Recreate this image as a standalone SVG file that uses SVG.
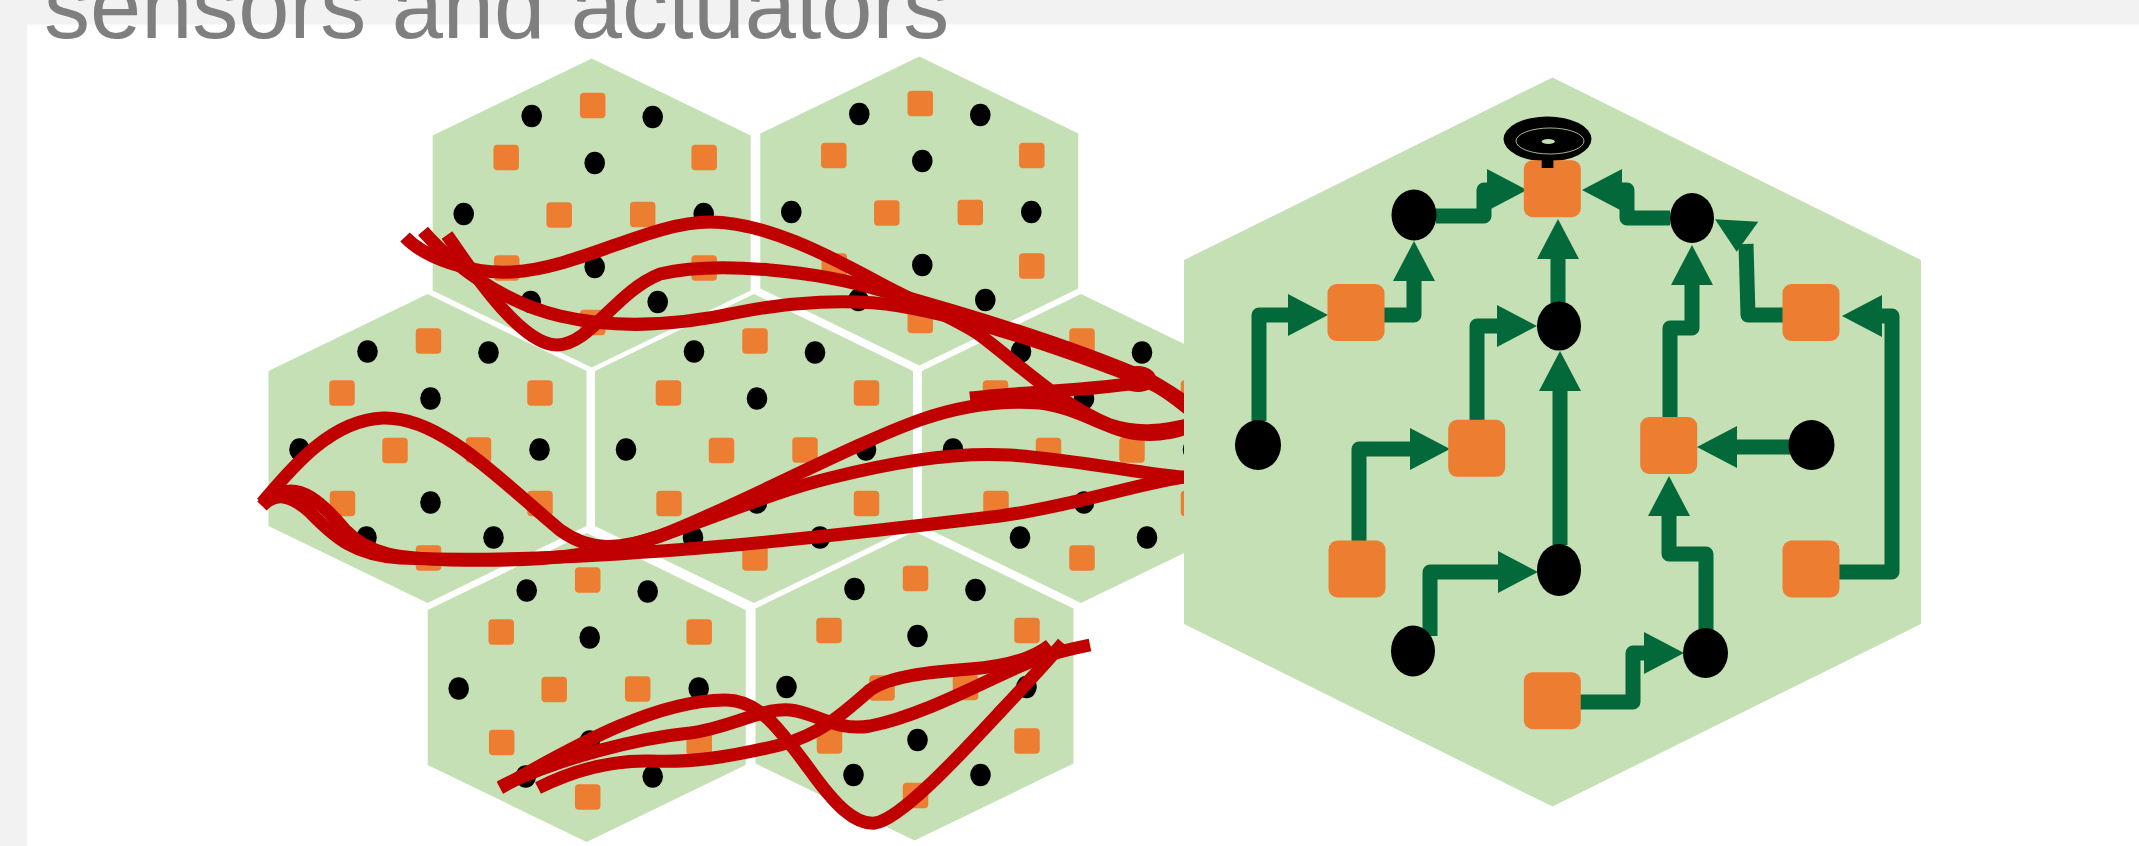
<svg xmlns="http://www.w3.org/2000/svg" xmlns:xlink="http://www.w3.org/1999/xlink" width="2139" height="846" viewBox="0 0 2139 846">
<style>
.hex{fill:#c5e0b4}
.sq{fill:#ed7d31}
.dot{fill:#000}
.wire{fill:none;stroke:#c00000;stroke-width:13;stroke-linecap:butt;stroke-linejoin:round}
.arr{fill:none;stroke:#04693a;stroke-width:15;stroke-linejoin:round;marker-end:url(#ah)}
.ahead{fill:#04693a}
.title{font-family:"Liberation Sans",Arial,sans-serif;font-size:92px;fill:#7f7f7f}
</style>
<defs>
<marker id="ah" markerUnits="userSpaceOnUse" viewBox="0 0 42 42" markerWidth="42" markerHeight="42" refX="0" refY="21" orient="auto">
<path d="M0,0 L40,21 L0,42 z" class="ahead"/>
</marker>
<g id="cell">
<polygon class="hex" points="0,-154.5 159,-77.5 159,77.5 0,154.5 -159,77.5 -159,-77.5"/>
<rect class="sq" x="-11.75" y="-120.25" width="25.5" height="25.5" rx="4"/>
<rect class="sq" x="-98.25" y="-68.25" width="25.5" height="25.5" rx="4"/>
<rect class="sq" x="99.75" y="-68.25" width="25.5" height="25.5" rx="4"/>
<rect class="sq" x="-45.25" y="-10.75" width="25.5" height="25.5" rx="4"/>
<rect class="sq" x="38.25" y="-11.25" width="25.5" height="25.5" rx="4"/>
<rect class="sq" x="-97.75" y="42.25" width="25.5" height="25.5" rx="4"/>
<rect class="sq" x="99.75" y="42.25" width="25.5" height="25.5" rx="4"/>
<rect class="sq" x="-11.75" y="96.75" width="25.5" height="25.5" rx="4"/>
<ellipse class="dot" cx="-60" cy="-97" rx="10.3" ry="11.3"/>
<ellipse class="dot" cx="61" cy="-96" rx="10.3" ry="11.3"/>
<ellipse class="dot" cx="3" cy="-50" rx="10.3" ry="11.3"/>
<ellipse class="dot" cx="-128" cy="1" rx="10.3" ry="11.3"/>
<ellipse class="dot" cx="112" cy="1" rx="10.3" ry="11.3"/>
<ellipse class="dot" cx="3" cy="54" rx="10.3" ry="11.3"/>
<ellipse class="dot" cx="-61" cy="89" rx="10.3" ry="11.3"/>
<ellipse class="dot" cx="66" cy="89" rx="10.3" ry="11.3"/>
</g>
</defs>
<rect x="0" y="0" width="2139" height="846" fill="#f2f2f2"/>
<rect x="27" y="24.5" width="2112" height="821.5" fill="#ffffff"/>
<text class="title" x="44" y="38">sensors and actuators</text>
<g id="cells">
<g id="cell-a"><use xlink:href="#cell" href="#cell" transform="translate(591.7,213)"/></g>
<g id="cell-b"><use xlink:href="#cell" href="#cell" transform="translate(919.3,211)"/></g>
<g id="cell-c"><use xlink:href="#cell" href="#cell" transform="translate(427.5,448.5)"/></g>
<g id="cell-d"><use xlink:href="#cell" href="#cell" transform="translate(754,448.5)"/></g>
<g id="cell-e"><use xlink:href="#cell" href="#cell" transform="translate(1081,448.5)"/></g>
<g id="cell-f"><use xlink:href="#cell" href="#cell" transform="translate(586.7,687.5)"/></g>
<g id="cell-g"><use xlink:href="#cell" href="#cell" transform="translate(914.5,686)"/></g>
</g>
<g id="wires">
<path class="wire" d="M405,237 C425,258 470,274 512,272 C580,268 650,222 710,222 C770,222 840,262 887,287 C925,307 955,318 980,335 C1020,365 1060,405 1110,425 C1140,435 1165,430 1192,424"/>
<path class="wire" d="M447,235 C470,268 520,345 557,345 C590,345 615,292 660,274 C720,260 820,272 880,290 C960,312 1070,345 1150,380 C1168,390 1182,400 1192,406"/>
<path class="wire" d="M423,231 C450,262 500,302 560,316 C620,330 680,325 740,312 C790,302 850,298 900,306 C980,320 1070,352 1150,383 C1168,391 1182,404 1192,412"/>
<path class="wire" d="M970,398 C1020,392 1100,390 1150,381"/>
<ellipse cx="1138" cy="379" rx="18" ry="13" fill="#c00000"/>
<path class="wire" d="M262,503 C290,470 330,420 383,418 C440,416 500,480 560,530 C590,552 620,550 660,536 C740,505 850,445 920,420 C960,406 1000,400 1040,403 C1080,408 1110,432 1140,434 C1165,436 1180,430 1192,426"/>
<path class="wire" d="M280,493 C300,485 320,500 345,530 C370,556 400,558 450,560 C540,562 600,556 660,536 C720,515 780,490 830,478 C900,460 960,452 1010,455 C1080,460 1140,474 1192,478"/>
<path class="wire" d="M262,506 C275,492 290,494 310,512 C335,538 355,555 400,558 C500,562 600,556 700,548 C800,540 900,528 1000,516 C1080,505 1140,482 1192,476"/>
<path class="wire" d="M500,788 C560,755 650,700 725,700 C760,700 780,730 810,770 C835,805 855,825 875,823 C900,820 960,755 1000,712 C1030,680 1050,658 1063,643"/>
<path class="wire" d="M500,787 C560,757 640,738 690,733 C730,728 760,708 790,710 C815,712 835,732 870,726 C930,714 1000,672 1040,658 C1060,651 1075,648 1090,645"/>
<path class="wire" d="M538,788 C570,772 610,760 650,761 C690,763 730,757 780,745 C820,735 845,712 870,690 C890,676 930,672 970,669 C1010,666 1035,657 1050,645"/>
</g>
<g id="big-cell">
<polygon class="hex" points="1552.5,77.5 1921,260 1921,624 1552.5,806.5 1184,624 1184,260"/>
</g>
<g id="connectors">
<path class="arr" d="M1259,421 V315 H1288"/>
<path class="arr" d="M1384,315 H1414 V281"/>
<path class="arr" d="M1436,216 H1484 V190 H1487"/>
<path class="arr" d="M1670,218 H1627 V190 H1622"/>
<path class="arr" d="M1558,303 V259"/>
<path class="arr" d="M1477,421 V326 H1497"/>
<path class="arr" d="M1560,545 V391"/>
<path class="arr" d="M1359,543 V449 H1410"/>
<path class="arr" d="M1430,636 V572 H1498"/>
<path class="arr" d="M1580,702 H1633 V653 H1644"/>
<path class="arr" d="M1706,630 V554 H1669 V516"/>
<path class="arr" d="M1790,447 H1737"/>
<path class="arr" d="M1839,572 H1892 V316 H1882"/>
<path class="arr" d="M1670,418 V328 H1692 V285"/>
<path d="M1783,315 H1748 L1746,244" fill="none" stroke="#04693a" stroke-width="15" stroke-linejoin="round"/>
<polygon class="ahead" points="1736.7,251.7 1758.3,221.7 1715,219.3"/>
</g>
<g id="nodes">
<g id="n-speaker">
<ellipse cx="1547.5" cy="139" rx="44" ry="22.5" fill="#000"/>
<ellipse cx="1550" cy="141" rx="34" ry="13" fill="none" stroke="#c5e0b4" stroke-width="0.8"/>
<ellipse cx="1548.3" cy="141.5" rx="6.5" ry="2.5" fill="#c5e0b4"/>
</g>
<g id="q1"><rect class="sq" x="1523.8" y="160.2" width="57" height="57" rx="9"/></g>
<rect x="1541.7" y="157" width="11.7" height="11" fill="#000"/>
<g id="q2"><rect class="sq" x="1327.5" y="284" width="57" height="57" rx="9"/></g>
<g id="q3"><rect class="sq" x="1782.5" y="284" width="57" height="57" rx="9"/></g>
<g id="q4"><rect class="sq" x="1448.2" y="419.8" width="57" height="57" rx="9"/></g>
<g id="q5"><rect class="sq" x="1640.2" y="417" width="57" height="57" rx="9"/></g>
<g id="q6"><rect class="sq" x="1328.5" y="540.5" width="57" height="57" rx="9"/></g>
<g id="q7"><rect class="sq" x="1782.5" y="540.5" width="57" height="57" rx="9"/></g>
<g id="q8"><rect class="sq" x="1523.8" y="672.2" width="57" height="57" rx="9"/></g>
<g id="n1"><ellipse class="dot" cx="1414" cy="215" rx="22.5" ry="25.5"/></g>
<g id="n2"><ellipse class="dot" cx="1692" cy="218" rx="22" ry="25"/></g>
<g id="n3"><ellipse class="dot" cx="1559" cy="326" rx="22" ry="24.5"/></g>
<g id="n4"><ellipse class="dot" cx="1258" cy="445" rx="23" ry="25"/></g>
<g id="n5"><ellipse class="dot" cx="1811.5" cy="445" rx="23" ry="25"/></g>
<g id="n6"><ellipse class="dot" cx="1559" cy="570" rx="22" ry="26"/></g>
<g id="n7"><ellipse class="dot" cx="1413" cy="651" rx="22" ry="25.5"/></g>
<g id="n8"><ellipse class="dot" cx="1705.5" cy="653" rx="22.5" ry="25"/></g>
</g>
</svg>
